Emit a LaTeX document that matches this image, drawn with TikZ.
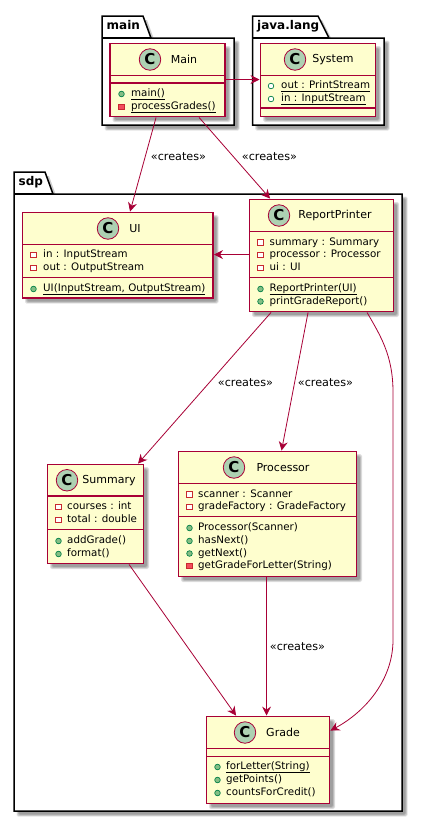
\documentclass[tikz,border=0pt]{standalone}
\usepackage{fontspec}
\setmainfont{DejaVu Sans}
\usetikzlibrary{arrows.meta}
\definecolor{umlred}{HTML}{A80036}
\definecolor{umlfill}{HTML}{FEFECE}
\definecolor{umlcirc}{HTML}{ADD1B2}
\definecolor{pubfill}{HTML}{84BE84}
\definecolor{publine}{HTML}{038048}
\definecolor{privfill}{HTML}{F24D5C}
\definecolor{privline}{HTML}{C82930}
\newcounter{autoname}
\newcommand{\ul}[1]{\setbox0\hbox{#1}\leavevmode\rlap{\vrule height -2.5pt depth 3.2pt width \wd0}\box0}
\tikzset{
  x=1pt,y=-1pt,
  pkgline/.style={draw=black,line width=1.5pt,fill=white,line join=miter},
  classbox/.style={draw=none,fill=umlred,inner sep=0pt,outer sep=0pt,anchor=north west},
  circ/.style={circle,draw=umlred,fill=umlcirc,line width=.8pt,minimum size=21.5pt,inner sep=0pt,font=\fontsize{15}{15}\selectfont\bfseries},
  title/.style={inner sep=0pt,font=\fontsize{11}{12}\selectfont},
  member/.style={inner sep=0pt,anchor=mid west,font=\fontsize{10.3}{12}\selectfont},
  pkgtitle/.style={inner sep=0pt,anchor=mid west,font=\fontsize{12}{14}\selectfont\bfseries},
  lbl/.style={inner sep=0pt,font=\fontsize{11.2}{12}\selectfont},
  rel/.style={draw=umlred,line width=.8pt,-{Stealth[length=9pt,width=9pt,inset=3pt]}},
  pubm/.style={circle,draw=publine,fill=pubfill,line width=.7pt,minimum size=5.6pt,inner sep=0pt},
  pubf/.style={circle,draw=publine,fill=white,line width=.7pt,minimum size=5.6pt,inner sep=0pt},
  privf/.style={rectangle,draw=privline,fill=white,line width=.7pt,minimum size=5.4pt,inner sep=0pt},
  privm/.style={rectangle,draw=privline,fill=privfill,line width=.7pt,minimum size=5.4pt,inner sep=0pt},
}
% soft shadow of a rectangle
\newcommand{\softshadow}[4]{%
  \foreach \g in {0,1,2,3}{%
    \fill[black,opacity=.11,rounded corners=1.5pt]
      ({#1+4-1.5+\g*.75},{#2+4-1.5+\g*.75}) rectangle ({#3+4+1.5-\g*.75},{#4+4+1.5-\g*.75});}}
% \umlclass{name}{x1}{y1}{x2}{y2}{div1}{div2}{circle x}{title x}
\newcommand{\umlclass}[9]{%
  \softshadow{#2}{#3}{#4}{#5}%
  \node[classbox,minimum width={#4-#2+1.9},minimum height={#5-#3+1.9}] (#1) at ({#2-.95},{#3-.95}) {};
  \fill[umlfill] ({#2+.95},{#3+.95}) rectangle ({#4-.95},{#5-.95});
  \fill[umlred] (#2,{#6-.95}) rectangle (#4,{#6+.95});
  \fill[umlred] (#2,{#7-.95}) rectangle (#4,{#7+.95});
  \node[circ] (#1c) at (#8,{(#3+#6)/2}) {C};
  \node[title] (#1t) at (#9,{(#3+#6)/2}) {\umltitle};}
\newcommand{\mem}[5]{% style, marker x, text x, y, text
  \stepcounter{autoname}%
  \node[#1] (mk\theautoname) at (#2,#4) {};
  \node[member] (tx\theautoname) at (#3,#4) {#5};}
\newcommand{\pkg}[6]{% name x1 x2 tabtopright tabbottomright bottom
  \softshadow{#2}{\pkgtop+22}{#3}{#6}%
  \fill[black,opacity=.2] ({#2+4},{\pkgtop+4}) -- ({#4+4},{\pkgtop+4}) -- ({#5+4},{\pkgtop+26}) -- ({#2+4},{\pkgtop+26}) -- cycle;
  \draw[pkgline] (#2,{\pkgtop+22}) -- (#2,\pkgtop) -- (#4,\pkgtop) -- (#5,{\pkgtop+22}) -- (#3,{\pkgtop+22}) -- (#3,#6) -- (#2,#6) -- cycle;
  \draw[pkgline] (#2,{\pkgtop+22}) -- (#5,{\pkgtop+22});
  \node[pkgtitle] (#1) at ({#2+4.5},{\pkgtop+10.5}) {#1};}
\begin{document}
\begin{tikzpicture}
\useasboundingbox (0,0) rectangle (422,822);
\fill[white] (0,0) rectangle (422,822);

% packages
\def\pkgtop{16}
\pkg{main}{102}{234}{143}{151}{125}
\pkg{java.lang}{252.5}{384}{318}{329}{125}
\def\pkgtop{172}
\pkg{sdp}{14}{402}{45}{53}{811}

% classes
\def\umltitle{Main}
\umlclass{cMain}{110}{43.5}{225}{116.5}{75.5}{83}{150}{184}
\mem{pubm}{121.5}{131}{94}{\ul{main()}}
\mem{privm}{121.5}{131}{107}{\ul{processGrades()}}

\def\umltitle{System}
\umlclass{cSystem}{260.5}{43.5}{375.5}{116.5}{75.5}{108}{295}{333}
\mem{pubf}{271}{281}{86}{\ul{out : PrintStream}}
\mem{pubf}{271}{281}{99}{\ul{in : InputStream}}

\def\umltitle{UI}
\umlclass{cUI}{22.5}{212.5}{213}{298}{244.5}{277.5}{108}{135}
\mem{privf}{33.5}{43}{255}{in : InputStream}
\mem{privf}{33.5}{43}{268}{out : OutputStream}
\mem{pubm}{33.5}{43}{289}{\ul{UI(InputStream, OutputStream)}}

\def\umltitle{ReportPrinter}
\umlclass{cRP}{249.5}{199.5}{393.5}{311.5}{231.5}{277.5}{279}{335}
\mem{privf}{260.5}{269.5}{242.5}{summary : Summary}
\mem{privf}{260.5}{269.5}{255}{processor : Processor}
\mem{privf}{260.5}{269.5}{268}{ui : UI}
\mem{pubm}{260.5}{269.5}{289}{\ul{ReportPrinter(UI)}}
\mem{pubm}{260.5}{269.5}{301.5}{printGradeReport()}

\def\umltitle{Summary}
\umlclass{cSum}{47.5}{464.5}{143.5}{563.5}{496}{529.5}{67}{109}
\mem{privf}{58.5}{67}{507}{courses : int}
\mem{privf}{58.5}{67}{520}{total : double}
\mem{pubm}{58.5}{67}{541}{addGrade()}
\mem{pubm}{58.5}{67}{554}{format()}

\def\umltitle{Processor}
\umlclass{cProc}{178.5}{451.5}{356.5}{576.5}{483.5}{516.5}{234}{283}
\mem{privf}{189.5}{198}{494.5}{scanner : Scanner}
\mem{privf}{189.5}{198}{507}{gradeFactory : GradeFactory}
\mem{pubm}{189.5}{198}{528}{Processor(Scanner)}
\mem{pubm}{189.5}{198}{541}{hasNext()}
\mem{pubm}{189.5}{198}{553.5}{getNext()}
\mem{privm}{189.5}{198}{566}{getGradeForLetter(String)}

\def\umltitle{Grade}
\umlclass{cGrade}{206.5}{716.5}{329.5}{803.5}{748.5}{756.5}{245}{283}
\mem{pubm}{217.5}{226}{767}{\ul{forLetter(String)}}
\mem{pubm}{217.5}{226}{780}{getPoints()}
\mem{pubm}{217.5}{226}{793}{countsForCredit()}

% connectors
\draw[rel] ([yshift=-37pt]cMain.north east) -- ([yshift=-37pt]cSystem.north west);
\draw[rel] ([xshift=47pt]cMain.south west) -- ([xshift=108.5pt]cUI.north west);
\draw[rel] ([xshift=90pt]cMain.south west) -- ([xshift=21.5pt]cRP.north west);
\draw[rel] ([yshift=-56pt]cRP.north west) -- ([yshift=-43pt]cUI.north east);
\draw[rel] ([xshift=22.5pt]cRP.south west) -- ([xshift=91.5pt]cSum.north west);
\draw[rel] ([xshift=59.5pt]cRP.south west) -- ([xshift=104pt]cProc.north west);
\draw[rel] ([xshift=118.5pt]cRP.south west) .. controls (380,335) and (393,355) .. (393,392) -- (393,640) .. controls (393,680) and (365,712) .. ([yshift=-15pt]cGrade.north east);
\draw[rel] ([xshift=82.5pt]cSum.south west) -- ([xshift=30.5pt]cGrade.north west);
\draw[rel] ([xshift=89pt]cProc.south west) -- ([xshift=61pt]cGrade.north west);

% labels
\node[lbl] (l1) at (178.5,157) {«creates»};
\node[lbl] (l2) at (269.5,157) {«creates»};
\node[lbl] (l3) at (245.5,383) {«creates»};
\node[lbl] (l4) at (325.5,383) {«creates»};
\node[lbl] (l5) at (297.5,647) {«creates»};
\end{tikzpicture}
\end{document}
